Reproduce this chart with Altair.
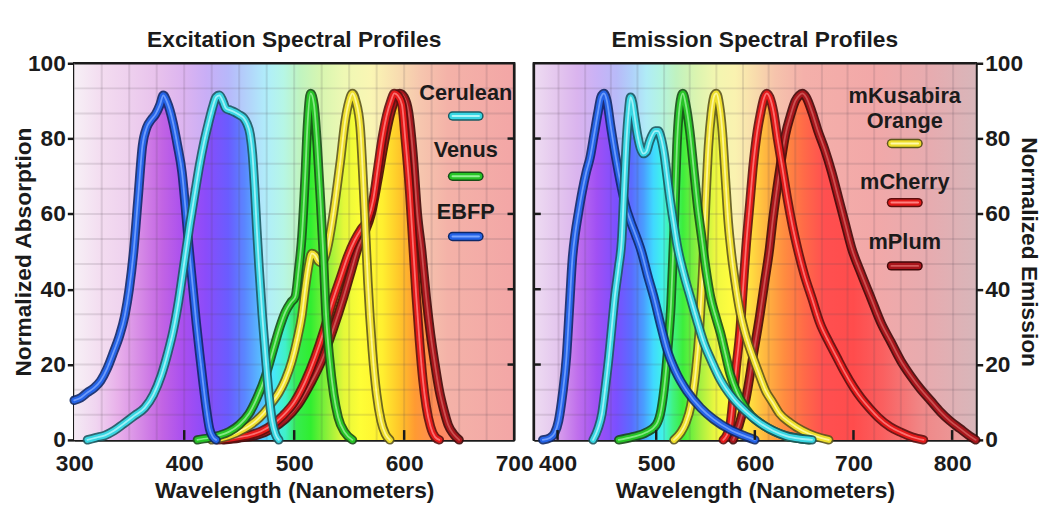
import altair as alt
import pandas as pd

FONT = "Liberation Sans"
INK = "#1b1b1b"

# ---------------- data: excitation (left panel) ----------------
ex_ebfp_nm = [300, 306, 312, 318, 324, 330, 336, 341, 346, 350, 354, 358, 362, 366, 370, 374, 378, 381, 384, 387, 390, 394, 398, 401, 404, 408, 411, 414, 417, 420, 423, 426, 429]
ex_ebfp_val = [10.5, 11.2, 12.6, 13.8, 15.7, 19, 23.5, 27.5, 33, 40, 50, 64, 78, 83, 85, 86.5, 89, 91.5, 90, 87.5, 84, 78, 71, 62, 52, 40, 31, 23, 15.5, 8.5, 3, 0.8, 0]

ex_cer_nm = [312, 320, 328, 336, 345, 355, 364, 372, 379, 385, 390, 395, 400, 405, 410, 414, 418, 422, 426, 429, 432, 435, 438, 442, 446, 450, 454, 457, 460, 462, 464, 466, 468, 471, 474, 477, 480, 483, 486]
ex_cer_val = [0, 0.6, 1.2, 2.4, 4.3, 6.5, 8.5, 12, 17, 23, 29, 37, 47, 57, 66, 73, 79, 84, 88.5, 91, 91.5, 90, 88, 87.5, 87, 86.3, 85.5, 84, 81, 76, 67, 56, 46, 33, 22, 12, 5, 1.5, 0]

ex_venus_nm = [412, 422, 432, 441, 450, 459, 466, 474, 481, 487, 492, 497, 501, 504, 507, 510, 512, 515, 518, 521, 524, 526, 529, 532, 536, 540, 546, 553]
ex_venus_val = [0, 0.5, 1.2, 2.2, 4, 7, 11, 17, 24, 30, 34, 36.5, 38, 45, 54, 70, 83, 92, 89, 78, 63, 52, 33, 22, 12, 6, 2, 0]

ex_mko_nm = [425, 440, 455, 465, 472, 480, 486, 492, 498, 503, 507, 510, 513, 516, 519, 522, 525, 528, 531, 534, 538, 542, 546, 550, 553, 556, 560, 564, 567, 571, 575, 579, 583, 587]
ex_mko_val = [0, 1, 3, 5, 7, 10, 12.5, 16, 21, 27, 33, 40, 46, 49.5, 49, 47.5, 47, 48.5, 52, 57, 65, 74, 84, 90, 92, 90, 83, 61, 42, 24, 12, 5, 1.5, 0]

ex_cherry_nm = [430, 445, 460, 470, 480, 490, 500, 510, 519, 527, 534, 542, 549, 555, 561, 567, 572, 576, 580, 584, 588, 591, 594, 598, 601, 605, 608, 611, 614, 617, 620, 624, 628, 632]
ex_cherry_val = [0, 0.5, 1.3, 2.3, 4, 6.5, 10, 15.5, 22, 29, 36, 43, 49, 53, 56, 58.5, 64, 72, 80, 86, 90, 92, 91.5, 89, 80, 66, 52, 38, 26, 16, 9, 3.5, 0.8, 0]

ex_plum_nm = [436, 450, 465, 480, 492, 504, 515, 525, 535, 545, 552, 558, 564, 570, 576, 582, 587, 592, 596, 600, 604, 608, 612, 616, 620, 624, 628, 632, 636, 640, 645, 650]
ex_plum_val = [0, 0.5, 1.2, 3, 5.5, 9.5, 15, 21, 29, 38, 45, 51, 55, 60, 69, 79, 86, 90.5, 92, 91, 87, 76, 60, 50, 38, 28, 20, 13, 8, 4, 1.5, 0]

# ---------------- data: emission (right panel) ----------------
em_ebfp_nm = [385, 392, 397, 401, 405, 409, 412, 415, 418, 421, 425, 429, 433, 437, 441, 444, 447, 450, 454, 459, 464, 469, 474, 479, 485, 491, 498, 505, 511, 520, 531, 545, 558, 575, 590, 600]
em_ebfp_val = [0, 0.5, 1.8, 5, 12, 22, 35, 48, 55, 60, 66, 71, 75, 81, 87, 91, 92, 90, 83, 75, 68, 62, 58, 54.5, 50, 44, 37.5, 30, 24, 18, 13, 8.5, 5.5, 2.7, 1, 0]

em_cer_nm = [436, 441, 445, 448, 452, 455, 458, 462, 465, 467, 470, 472, 474, 476, 478, 481, 484, 487, 490, 493, 496, 499, 502, 505, 508, 511, 514, 518, 521, 528, 535, 541, 548, 556, 565, 578, 591, 605, 618, 632, 646, 658]
em_cer_val = [0, 3, 7, 13, 22, 30, 38, 46, 53, 64, 80, 87, 91, 89.5, 86, 81, 77.5, 76, 76.5, 79, 81, 82, 82, 80, 76, 70, 64, 57, 52, 44, 37.5, 32, 26, 21, 16, 11, 7.5, 4.5, 2.5, 1, 0.3, 0]

em_venus_nm = [462, 476, 490, 500, 505, 509, 512, 515, 518, 521, 524, 527, 530, 534, 538, 542, 546, 550, 555, 560, 565, 570, 575, 582, 588, 596, 608, 620, 632, 644, 655]
em_venus_val = [0, 0.8, 2, 4, 8, 16, 25, 36, 55, 78, 89, 92, 89, 82, 72, 62, 54, 46, 38, 33, 28.5, 23, 17.5, 12.5, 9.5, 6.5, 4, 2.2, 1, 0.4, 0]

em_mko_nm = [518, 525, 530, 535, 540, 544, 547, 550, 553, 556, 559, 561, 564, 567, 570, 573, 576, 580, 585, 591, 598, 605, 611, 618, 625, 636, 648, 661, 675]
em_mko_val = [0, 2, 4.5, 9, 18, 30, 44, 62, 78, 87, 91.5, 92, 89, 82, 70, 58, 50, 42, 34, 27.5, 22, 17, 13, 10, 7, 4.5, 2.5, 1, 0]

em_cherry_nm = [568, 571, 575, 578, 581, 585, 588, 591, 595, 598, 602, 606, 609, 612, 615, 619, 623, 628, 633, 638, 644, 650, 658, 666, 675, 683, 691, 700, 708, 716, 725, 737, 748, 760, 771]
em_cherry_val = [0, 1, 4, 11, 19, 29, 40, 51, 63, 72, 81, 87, 90.5, 92, 91, 87, 80, 72, 64, 57, 50, 44, 37.5, 31, 26, 22, 18, 14, 11, 8.5, 6, 3.5, 2, 0.7, 0]

em_plum_nm = [578, 584, 591, 598, 605, 610, 615, 618, 621, 626, 631, 636, 641, 645, 648, 652, 658, 664, 671, 678, 685, 691, 698, 708, 718, 728, 738, 748, 758, 768, 778, 788, 798, 808, 818, 824]
em_plum_val = [0, 4, 11, 22, 33, 42, 51, 58, 64, 73, 81, 86, 90, 91.5, 92, 91, 87, 82, 77, 71, 64, 58, 51, 44, 37.5, 31, 26, 21, 17, 13.5, 10.5, 7.5, 5, 3, 1, 0]

# ---------------- axes / labels ----------------
ex_domain = [300, 700]
em_domain = [376, 824]
ex_x_ticks = [300, 400, 500, 600, 700]
em_x_ticks = [400, 500, 600, 700, 800]
y_ticks = [0, 20, 40, 60, 80, 100]
ex_inner_ticks = [400, 500, 600]
em_inner_ticks = [400, 500, 600, 700, 800]
side_ticks = [20, 40, 60, 80]
ex_grid_nm = [325, 350, 375, 400, 425, 450, 475, 500, 525, 550, 575, 600, 625, 650, 675]
em_grid_nm = [401, 428, 454, 481, 508, 534, 561, 588, 614, 641, 668, 694, 721, 748, 774, 801]
grid_val = [6.67, 13.33, 20, 26.67, 33.33, 40, 46.67, 53.33, 60, 66.67, 73.33, 80, 86.67, 93.33]

ex_legend_names = ["Cerulean", "Venus", "EBFP"]
em_legend_lines = ["mKusabira", "Orange", "mCherry", "mPlum"]
em_legend_names = ["mKO", "mCherry", "mPlum"]

# ---------------- styles ----------------
COLOR = {"EBFP": "#2563e6", "Cerulean": "#38d6e2", "Venus": "#26c426",
         "mKO": "#eede2c", "mCherry": "#e41a1a", "mPlum": "#a8161c"}
OUTLINE = {"EBFP": "#0e2868", "Cerulean": "#1b5a62", "Venus": "#174d17",
           "mKO": "#5e561c", "mCherry": "#5c0e0e", "mPlum": "#400808"}
HILITE = {"EBFP": "#7aa6ff", "Cerulean": "#b0f6fa", "Venus": "#95f095",
          "mKO": "#fffaa8", "mCherry": "#ff8080", "mPlum": "#d25a5a"}

ex_bg_stops = [(300, "#f7f0f6"), (325, "#f3dcf0"), (350, "#eed0ee"), (375, "#e8c2ec"), (400, "#dcb4f0"),
               (420, "#c9aef6"), (440, "#b7b8fa"), (460, "#b2d6fa"), (475, "#b0eefa"), (490, "#b6f6e6"),
               (505, "#c0f4c0"), (525, "#d8f6b0"), (545, "#eef8b4"), (570, "#faf6b4"), (595, "#f8dcb0"),
               (615, "#f6c6ae"), (640, "#f4b2a8"), (700, "#f3a6a6")]
ex_fill_stops = [(300, "#f4eaf4"), (320, "#f0d4f0"), (340, "#e8b0ea"), (360, "#d68ae6"), (380, "#c264e4"),
                 (400, "#a84ef0"), (420, "#8a4cfa"), (440, "#6a5cff"), (455, "#5a86ff"), (468, "#58b8ff"),
                 (480, "#48e6ff"), (492, "#40f0c8"), (502, "#36ec50"), (515, "#30ee30"), (530, "#8cf03a"),
                 (545, "#e4f83a"), (560, "#fefe36"), (580, "#fff030"), (595, "#ffc82a"), (610, "#ff9a32"),
                 (630, "#ff8a5a"), (660, "#fa8a8a"), (700, "#f49a9a")]
em_bg_stops = [(376, "#eedcf2"), (400, "#e4c6ee"), (420, "#dab4ee"), (440, "#c9b2f6"), (460, "#b8baf8"),
               (475, "#b0d0fa"), (490, "#b0ecf6"), (505, "#b4f4e0"), (520, "#c0f2c0"), (540, "#daf4b0"),
               (560, "#f2f6b0"), (580, "#faf2b0"), (600, "#f8dcac"), (620, "#f6c4ac"), (650, "#f4b0aa"),
               (720, "#f2a8a8"), (780, "#e6acb0"), (824, "#d8b6ba")]
em_fill_stops = [(376, "#e8c8f0"), (400, "#d8a0ec"), (420, "#c070ec"), (440, "#a050f4"), (460, "#7a50ff"),
                 (475, "#5a6cff"), (487, "#4a9cff"), (497, "#40d8ff"), (507, "#40f4e8"), (517, "#40f280"),
                 (527, "#3cee3c"), (545, "#a6f040"), (560, "#eef840"), (575, "#fffc40"), (595, "#ffe040"),
                 (610, "#ffb840"), (630, "#ff8c40"), (650, "#ff6a48"), (670, "#ff5050"), (700, "#ff4c4c"),
                 (730, "#fa6060"), (770, "#f08888"), (824, "#e8a0a0")]


def gradient(stops, domain):
    lo, hi = domain
    return {"gradient": "linear", "x1": 0, "y1": 0, "x2": 1, "y2": 0,
            "stops": [{"offset": (nm - lo) / (hi - lo), "color": c} for nm, c in stops]}


def panel(title, domain, width, series, draw_order, bg_stops, fill_stops, grid_nm, x_ticks,
          inner_ticks, y_orient, y_title, y_title_pad, legend_texts, legend_swatches,
          side_x0, side_x1, top_border_x, swatch_half):
    xs = alt.Scale(domain=domain, nice=False, zero=False)
    ys = alt.Scale(domain=[0, 100], nice=False, zero=False)
    xaxis = alt.Axis(values=x_ticks, title="Wavelength (Nanometers)", ticks=False, labelPadding=13,
                     titlePadding=4, labelFlush=False, grid=False, domainWidth=3, format="d",
                     labelFont=FONT, labelFontSize=23, labelFontWeight="bold", labelColor=INK,
                     titleFont=FONT, titleFontSize=23, titleFontWeight="bold", titleColor=INK,
                     domainColor=INK)
    yaxis = alt.Axis(values=y_ticks, title=y_title, orient=y_orient, tickSize=7, labelPadding=2,
                     titlePadding=y_title_pad, labelFlush=False, grid=False, domainWidth=3, format="d",
                     labelFont=FONT, labelFontSize=23, labelFontWeight="bold", labelColor=INK,
                     titleFont=FONT, titleFontSize=23, titleFontWeight="bold", titleColor=INK,
                     tickColor=INK, tickWidth=2.5, domainColor=INK)

    def X(f="nm"):
        return alt.X(f + ":Q", scale=xs, axis=xaxis)

    def Y(f="val"):
        return alt.Y(f + ":Q", scale=ys, axis=yaxis, stack=None)

    lo, hi = domain
    layers = []
    bg = pd.DataFrame({"nm": [lo], "nm2": [hi], "val": [0], "val2": [100]})
    layers.append(alt.Chart(bg).mark_rect(fill=gradient(bg_stops, domain)).encode(
        x=X(), x2="nm2:Q", y=Y(), y2="val2:Q"))

    # filled areas (each extended across the full domain so the gradient lines up)
    rows = []
    for name in draw_order:
        nm, val = series[name]
        pts = [(lo, 0)] + list(zip(nm, val)) + [(hi, 0)]
        for a, b in pts:
            rows.append({"series": name, "nm": a, "val": b})
    area_df = pd.DataFrame(rows)
    layers.append(alt.Chart(area_df).mark_area(fill=gradient(fill_stops, domain), interpolate="monotone").encode(
        x=X(), y=Y(), detail="series:N"))

    # grid
    layers.append(alt.Chart(pd.DataFrame({"nm": grid_nm})).mark_rule(
        stroke="#5a4a55", strokeOpacity=0.15, strokeWidth=2).encode(x=X()))
    layers.append(alt.Chart(pd.DataFrame({"val": grid_val})).mark_rule(
        stroke="#5a4a55", strokeOpacity=0.15, strokeWidth=2).encode(y=Y()))

    # curves
    for name in draw_order:
        nm, val = series[name]
        d = pd.DataFrame({"nm": nm, "val": val})
        base = alt.Chart(d).encode(x=X(), y=Y())
        layers.append(base.mark_line(stroke=OUTLINE[name], strokeWidth=9.5, interpolate="monotone",
                                     strokeJoin="round", strokeCap="round", strokeOpacity=0.9))
        layers.append(base.mark_line(stroke=COLOR[name], strokeWidth=6, interpolate="monotone",
                                     strokeJoin="round", strokeCap="round"))
        layers.append(base.mark_line(stroke=HILITE[name], strokeWidth=1.8, interpolate="monotone",
                                     strokeJoin="round", strokeCap="round", strokeOpacity=0.85))

    # frame borders and inward ticks
    layers.append(alt.Chart(pd.DataFrame({"val": [100]})).mark_rule(stroke=INK, strokeWidth=2.5).encode(y=Y()))
    layers.append(alt.Chart(pd.DataFrame({"nm": [top_border_x]})).mark_rule(stroke=INK, strokeWidth=2.5).encode(x=X()))
    it = pd.DataFrame({"nm": inner_ticks, "val": [0] * len(inner_ticks), "val2": [2.6] * len(inner_ticks)})
    layers.append(alt.Chart(it).mark_rule(stroke=INK, strokeWidth=2.5).encode(x=X(), y=Y(), y2="val2:Q"))
    st = pd.DataFrame({"nm": [side_x0] * 4, "nm2": [side_x1] * 4, "val": side_ticks})
    layers.append(alt.Chart(st).mark_rule(stroke=INK, strokeWidth=2.5).encode(x=X(), x2="nm2:Q", y=Y()))

    # legend
    lt = pd.DataFrame(legend_texts, columns=["label", "nm", "val"])
    layers.append(alt.Chart(lt).mark_text(font=FONT, fontSize=22, fontWeight="bold", color=INK,
                                          baseline="middle", align="center").encode(x=X(), y=Y(), text="label:N"))
    for name, cx, cy in legend_swatches:
        sw = pd.DataFrame({"nm": [cx - swatch_half], "nm2": [cx + swatch_half], "val": [cy]})
        b = alt.Chart(sw).encode(x=X(), x2="nm2:Q", y=Y())
        layers.append(b.mark_rule(stroke=OUTLINE[name], strokeWidth=9.5, strokeCap="round"))
        layers.append(b.mark_rule(stroke=COLOR[name], strokeWidth=6.5, strokeCap="round"))
        layers.append(b.mark_rule(stroke=HILITE[name], strokeWidth=2, strokeCap="round"))

    return alt.layer(*layers).properties(
        width=width, height=381,
        title=alt.TitleParams(text=title, fontSize=23, font=FONT, fontWeight="bold", color=INK,
                              anchor="middle", frame="group", offset=0))


ex_series = {"EBFP": (ex_ebfp_nm, ex_ebfp_val), "Cerulean": (ex_cer_nm, ex_cer_val),
             "Venus": (ex_venus_nm, ex_venus_val), "mKO": (ex_mko_nm, ex_mko_val),
             "mCherry": (ex_cherry_nm, ex_cherry_val), "mPlum": (ex_plum_nm, ex_plum_val)}
em_series = {"EBFP": (em_ebfp_nm, em_ebfp_val), "Cerulean": (em_cer_nm, em_cer_val),
             "Venus": (em_venus_nm, em_venus_val), "mKO": (em_mko_nm, em_mko_val),
             "mCherry": (em_cherry_nm, em_cherry_val), "mPlum": (em_plum_nm, em_plum_val)}

order = ["mPlum", "mCherry", "mKO", "Venus", "EBFP", "Cerulean"]

LX = 656
left = panel("Excitation Spectral Profiles", ex_domain, 445, ex_series, order, ex_bg_stops, ex_fill_stops,
             ex_grid_nm, ex_x_ticks, ex_inner_ticks, "left", "Normalized Absorption", -8,
             [(ex_legend_names[0], LX, 92), (ex_legend_names[1], LX, 77), (ex_legend_names[2], LX, 60.6)],
             [("Cerulean", LX, 86), ("Venus", LX, 70), ("EBFP", LX, 54)],
             694, 700, 700, 12)

RX = 752
right = panel("Emission Spectral Profiles", em_domain, 447, em_series, order, em_bg_stops, em_fill_stops,
              em_grid_nm, em_x_ticks, em_inner_ticks, "right", "Normalized Emission", -6,
              [(em_legend_lines[0], RX, 91.2), (em_legend_lines[1], RX, 84.6),
               (em_legend_lines[2], RX, 68.5), (em_legend_lines[3], RX, 52.5)],
              [("mKO", RX, 78.7), ("mCherry", RX, 63), ("mPlum", RX, 46.2)],
              376, 383, 376, 13.5)

chart = alt.hconcat(left, right, spacing=20, bounds="flush").properties(
    padding={"left": 3, "top": 17, "right": 2, "bottom": 0}, background="white"
).configure_view(stroke=INK, strokeWidth=2.5)

chart.save("out.html", embed_options={"renderer": "svg", "actions": False})
